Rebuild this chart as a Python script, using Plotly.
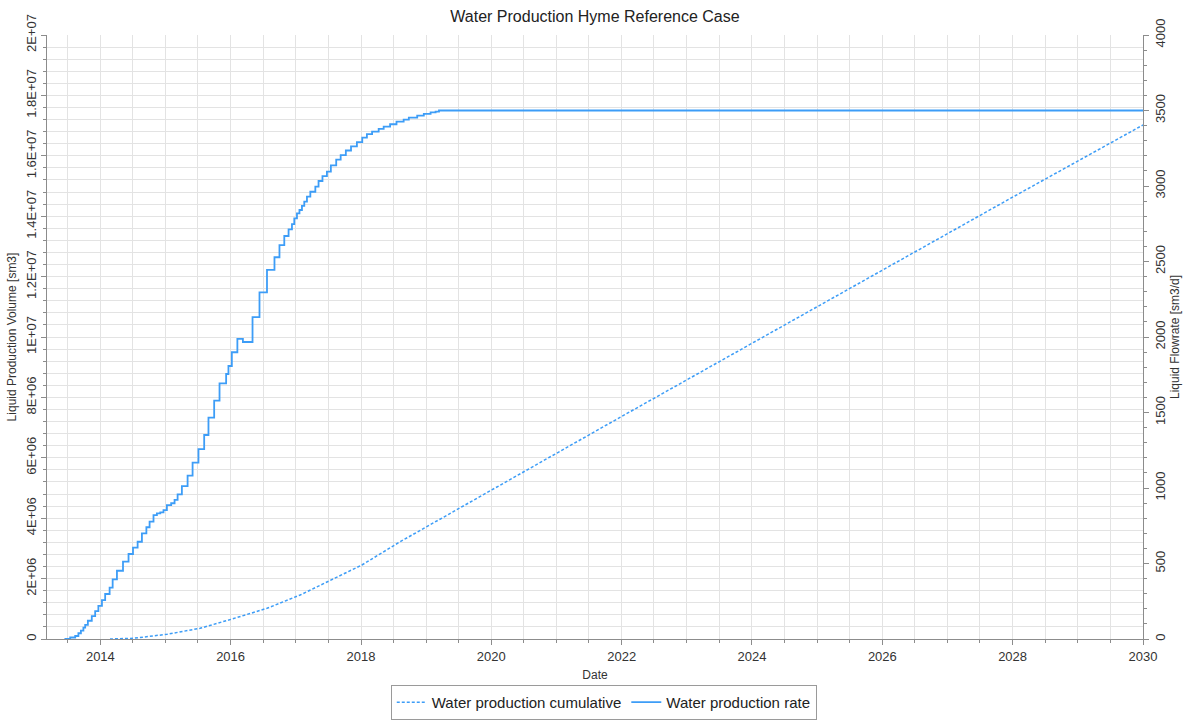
import plotly.graph_objects as go

# Water production rate, stepwise (start date of each step, sm3/d)
rate_dates = [
    "2013-06-14", "2013-07-16", "2013-08-13", "2013-08-31", "2013-09-14", "2013-09-28",
    "2013-10-08", "2013-10-23", "2013-11-14", "2013-12-03", "2013-12-21", "2014-01-10",
    "2014-01-28", "2014-02-22", "2014-03-11", "2014-04-04", "2014-05-08", "2014-06-08",
    "2014-07-03", "2014-07-29", "2014-08-22", "2014-09-16", "2014-10-04", "2014-10-26",
    "2014-11-14", "2014-12-03", "2014-12-21", "2015-01-09", "2015-02-02", "2015-02-21",
    "2015-03-10", "2015-04-03", "2015-05-05", "2015-06-02", "2015-07-05", "2015-08-06",
    "2015-08-30", "2015-10-01", "2015-10-31", "2015-12-07", "2015-12-20", "2016-01-08",
    "2016-02-08", "2016-03-10", "2016-05-03", "2016-06-11", "2016-07-23", "2016-09-03",
    "2016-10-01", "2016-10-28", "2016-11-21", "2016-12-10", "2016-12-23", "2017-01-07",
    "2017-01-21", "2017-02-04", "2017-02-17", "2017-03-04", "2017-03-23", "2017-04-20",
    "2017-05-08", "2017-05-30", "2017-06-24", "2017-07-16", "2017-08-15", "2017-09-09",
    "2017-10-08", "2017-11-06", "2017-12-09", "2018-01-08", "2018-02-03", "2018-03-04",
    "2018-04-10", "2018-05-08", "2018-06-13", "2018-07-19", "2018-08-28", "2018-09-26",
    "2018-11-12", "2018-12-19", "2019-01-26", "2019-02-23", "2019-03-14", "2030-01-01",
]
rate_values = [
    0, 10, 20, 38, 55, 75,
    93, 121, 152, 185, 219, 258,
    298, 340, 395, 452, 512, 563,
    605, 644, 700, 740, 777, 821,
    832, 839, 854, 887, 899, 921,
    958, 1013, 1082, 1168, 1258, 1351,
    1466, 1578, 1693, 1755, 1808, 1899,
    1987, 1967, 2131, 2296, 2444, 2528,
    2609, 2669, 2713, 2747, 2786, 2819,
    2841, 2868, 2896, 2929, 2962, 2996,
    3033, 3066, 3095, 3136, 3175, 3205,
    3235, 3262, 3290, 3320, 3343, 3360,
    3378, 3393, 3409, 3426, 3439, 3453,
    3466, 3477, 3488, 3492, 3500, 3500,
]

# Cumulative water production (sm3)
cum_dates = [
    "2014-02-24", "2014-07-03", "2015-01-09", "2015-07-14", "2016-01-04", "2016-07-23",
    "2017-01-25", "2017-07-29", "2018-01-06", "2018-08-08", "2019-01-01", "2020-01-01",
    "2022-01-01", "2024-01-01", "2026-01-01", "2028-01-01", "2030-01-01",
]
cum_values = [
    0, 23000, 156000, 354000, 652000, 1017000,
    1457000, 1977000, 2450000, 3220000, 3710000, 4930000,
    7370000, 9790000, 12220000, 14630000, 17020000,
]

# Axis ticks
vol_tickvals = [0, 2e6, 4e6, 6e6, 8e6, 1e7, 1.2e7, 1.4e7, 1.6e7, 1.8e7, 2e7]
vol_ticktext = ["0", "2E+06", "4E+06", "6E+06", "8E+06", "1E+07",
                "1.2E+07", "1.4E+07", "1.6E+07", "1.8E+07", "2E+07"]
rate_tickvals = [0, 500, 1000, 1500, 2000, 2500, 3000, 3500, 4000]

LINE = "#3d9df7"
GRID = "#e3e3e3"
AXIS = "#8c8c8c"
FONT = "Liberation Sans, Arial, sans-serif"

fig = go.Figure()
fig.add_trace(go.Scatter(
    x=cum_dates, y=cum_values, name="Water production cumulative",
    mode="lines", line=dict(color=LINE, width=1.5, dash="3px,2px"),
    yaxis="y",
))
fig.add_trace(go.Scatter(
    x=rate_dates, y=rate_values, name="Water production rate",
    mode="lines", line=dict(color=LINE, width=1.8, shape="hv"),
    yaxis="y2",
))

fig.update_layout(
    width=1190, height=720,
    margin=dict(l=47, r=47, t=35, b=81, autoexpand=False),
    paper_bgcolor="white", plot_bgcolor="white",
    font=dict(family=FONT, size=13, color="#222"),
    title=dict(text="Water Production Hyme Reference Case", x=0.5, xanchor="center",
               y=0.977, yanchor="middle", font=dict(size=16, color="#222")),
    xaxis=dict(
        type="date", range=["2013-03-08", "2030-01-01"],
        dtick="M24", tick0="2014-01-01", tickformat="%Y",
        showgrid=True, gridcolor=GRID, gridwidth=1,
        showline=True, linecolor=AXIS, linewidth=1,
        ticks="outside", ticklen=5, tickcolor=AXIS,
        tickfont=dict(size=13, color="#333"),
        minor=dict(dtick="M6", tick0="2014-01-01", showgrid=True, gridcolor=GRID,
                   ticks="outside", ticklen=3, tickcolor=AXIS),
        title=dict(text="Date", font=dict(size=12, color="#333"), standoff=8),
        zeroline=False,
    ),
    yaxis=dict(
        range=[0, 2e7], tickmode="array", tickvals=vol_tickvals, ticktext=vol_ticktext,
        tickangle=-90, tickfont=dict(size=13, color="#333"),
        showgrid=True, gridcolor=GRID, gridwidth=1,
        showline=True, linecolor=AXIS, linewidth=1,
        ticks="outside", ticklen=5, tickcolor=AXIS,
        minor=dict(dtick=4e5, tick0=0, showgrid=True, gridcolor=GRID,
                   ticks="outside", ticklen=3, tickcolor=AXIS),
        title=dict(text="Liquid Production Volume [sm3]", font=dict(size=12, color="#333"),
                   standoff=4),
        zeroline=False,
    ),
    yaxis2=dict(
        range=[0, 4000], overlaying="y", side="right",
        tickmode="array", tickvals=rate_tickvals,
        tickangle=-90, tickfont=dict(size=13, color="#333"),
        showgrid=False,
        showline=True, linecolor=AXIS, linewidth=1,
        ticks="outside", ticklen=5, tickcolor=AXIS,
        minor=dict(dtick=100, tick0=0, showgrid=False,
                   ticks="outside", ticklen=3, tickcolor=AXIS),
        title=dict(text="Liquid Flowrate [sm3/d]", font=dict(size=12, color="#333"),
                   standoff=4),
        zeroline=False,
    ),
    legend=dict(
        orientation="h", x=0.508, xanchor="center", y=-0.076, yanchor="top",
        bordercolor="#9a9a9a", borderwidth=1, bgcolor="white",
        font=dict(size=15, color="#222"), itemwidth=30,
    ),
    showlegend=True,
)

fig.write_html("out.html")
